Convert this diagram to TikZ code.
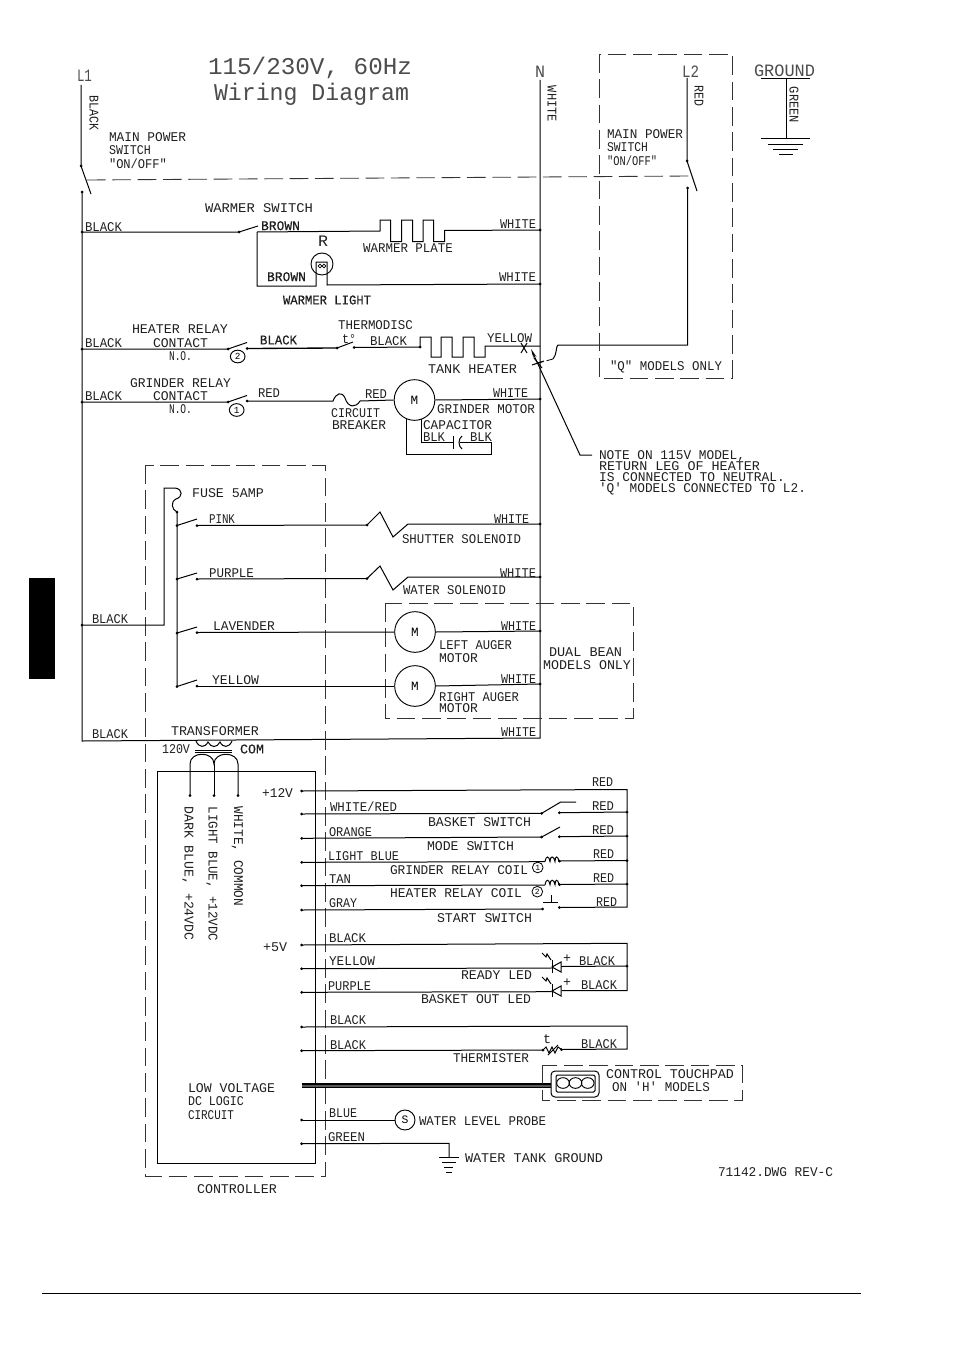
\documentclass[tikz,border=0pt]{standalone}
\usepackage{fontspec}
\setmainfont{Liberation Mono}
\newfontfamily\fplain{Liberation Mono}
\newfontfamily\fbold[FakeBold=0.4]{Liberation Mono}
\usetikzlibrary{arrows.meta,shapes.geometric}
\newcounter{tn}
\newcommand{\lblsize}{\fontsize{10}{12}\selectfont}
\newcommand{\Lab}[5][\lblsize]{\stepcounter{tn}\pgfmathsetlengthmacro\lw{(#3-#2)*0.75}%
  \node[lbl] (t\arabic{tn}) at (#2,{#4+4.4}) {\resizebox{\lw}{\height}{\fplain#1#5}};}
\newcommand{\VLab}[4]{\stepcounter{tn}\pgfmathsetlengthmacro\lw{(#3-#2)*0.75}%
  \node[lbl,rotate=-90] (t\arabic{tn}) at ({#1-4.4},#2) {\resizebox{\lw}{\height}{\lblsize #4}};}
\newcommand{\Jn}[1]{\fill (#1) circle (1.5);}
\newcommand{\Coil}[2]{\draw (#1,#2) .. controls (#1+1,#2-6) and (#1+4,#2-6) .. (#1+5,#2) .. controls (#1+5,#2-6) and (#1+9,#2-6) .. (#1+10,#2) .. controls (#1+10,#2-6) and (#1+13,#2-6) .. (#1+14,#2);}
\newcommand{\Led}[2]{% bar at x, centre y
  \draw (#1,#2-7) -- (#1,#2+6);
  \draw (#1,#2) -- (#1+9,#2-5) -- (#1+9,#2+5) -- cycle;
  \draw (#1-10,#2-14) -- (#1-6,#2-10) -- (#1-5,#2-13) -- (#1-1,#2-7);}
\tikzset{
  wire/.style={line width=0.75pt,line join=miter},
  lbl/.style={inner sep=0pt,outer sep=0pt,anchor=base west,text=black!88},
  dashbox/.style={line width=0.65pt,dash pattern=on 14pt off 5pt,draw=black!80},
  motor/.style={circle,draw,line width=0.7pt,minimum size=30.5pt,inner sep=0pt,font=\fontsize{9.5}{10}\selectfont},
  numc/.style={ellipse,draw,line width=0.7pt,minimum width=11pt,minimum height=9.5pt,inner sep=0pt,font=\fontsize{7}{8}\selectfont},
  numd/.style={ellipse,draw,line width=0.6pt,minimum width=8pt,minimum height=8pt,inner sep=0pt,font=\fontsize{6}{7}\selectfont},
}
\begin{document}
\begin{tikzpicture}[x=0.75pt,y=-0.75pt,wire]
\useasboundingbox (0,0) rectangle (954,1359);
\fill[black] (29,578) rectangle (55,679);
\draw[line width=0.55pt] (42,1293) -- (861,1293);

% ---------- title and supply labels
\tikzset{lbl/.append style={text=black!70}}
\Lab[\fontsize{18}{20}\selectfont]{208}{412}{70.6}{115/230V, 60Hz}
\Lab[\fontsize{18}{20}\selectfont]{214}{409}{96.6}{Wiring Diagram}
\Lab[\fontsize{13}{15}\selectfont]{77}{92}{77}{L1}
\Lab[\fontsize{13}{15}\selectfont]{535}{545}{73}{N}
\Lab[\fontsize{13}{15}\selectfont]{682}{699}{73}{L2}
\Lab[\fontsize{13}{15}\selectfont]{754}{815}{72}{GROUND}
\tikzset{lbl/.append style={text=black!88}}
\VLab{94}{96}{131}{BLACK}
\VLab{552}{86}{122}{WHITE}
\VLab{699}{86}{107}{RED}
\VLab{794}{87}{123}{GREEN}
\Lab{109}{186}{137}{MAIN POWER}
\Lab{109}{151}{150}{SWITCH}
\Lab{109}{167}{164}{"ON/OFF"}
\Lab{607}{683}{134}{MAIN POWER}
\Lab{607}{648}{147}{SWITCH}
\Lab{607}{657}{160.7}{"ON/OFF"}
\Lab{610}{722}{366}{"Q" MODELS ONLY}
\Lab{599}{745}{455}{NOTE ON 115V MODEL,}
\Lab{599}{760}{466}{RETURN LEG OF HEATER}
\Lab{599}{785}{477}{IS CONNECTED TO NEUTRAL.}
\Lab{599}{806}{488}{'Q' MODELS CONNECTED TO L2.}

% ---------- rails
\coordinate (Ltop) at (81,85);
\coordinate (Lsw) at (81,166);
\coordinate (Lblade) at (91,194);
\coordinate (Lb) at (82,192);
\coordinate (Lbot) at (82,741);
\coordinate (Ntop) at (540,80);
\coordinate (Nbot) at (540,738);
\draw (Ltop) -- (Lsw) -- (Lblade);
\draw (Lb) -- (Lbot) -- (Nbot) -- (Ntop);
\Jn{Lsw} \Jn{Lb}
\coordinate (Rtop) at (687,78);
\coordinate (Rsw) at (687,161);
\coordinate (Rblade) at (697,191);
\coordinate (Rb) at (687.5,188);
\coordinate (Rc) at (687.5,345);
\coordinate (Rd) at (558,345);
\coordinate (Re) at (553,359);
\coordinate (Xb) at (538,363);
\draw (Rtop) -- (Rsw) -- (Rblade);
\draw (Rb) -- (Rc) -- (Rd) .. controls (556,345) and (557,355) .. (Re);
\draw[line width=0.6pt,dash pattern=on 5pt off 2.5pt] (Re) -- (Xb);
\Jn{Rsw} \Jn{Rb}
\draw[dashbox] (87,180) -- (690,176);
\draw[dashbox] (599,54) rectangle (732,378);
% ground
\coordinate (Gt) at (786,79);
\coordinate (Gb) at (786,139);
\draw (761,79) -- (810,79);
\draw (Gt) -- (Gb);
\draw (761,139) -- (810,139);
\draw (768,144.5) -- (803,144.5);
\draw (773,149.5) -- (798,149.5);
\draw (779,155) -- (793,155);

% ---------- warmer
\coordinate (wa) at (82,232);
\coordinate (wb) at (239,232);
\coordinate (wc) at (258,226);
\coordinate (wd) at (257,232);
\coordinate (we) at (380,231);
\coordinate (wg) at (540,230);
\coordinate (wh) at (257,286);
\coordinate (wi) at (316,286);
\coordinate (wj) at (327,285);
\coordinate (wk) at (540,284);
\draw (wa) -- (wb) -- (wc);
\draw (wd) -- (we) -- ++(0,-11) -- ++(10.5,0) -- ++(0,21.5) -- ++(11,0) -- ++(0,-21.5) -- ++(11,0) -- ++(0,21.5) -- ++(10.5,0) -- ++(0,-21.5) -- ++(10.5,0) -- ++(0,21.5) -- ++(11,0) -- ++(0,-11) -- (wg);
\draw (wd) -- (wh) -- (wi) -- ++(0,-24) -- ++(11,0) -- (wj) -- (wk);
\Jn{wa} \Jn{wb} \Jn{wg} \Jn{wk}
\node[circle,draw,line width=0.7pt,minimum size=16.5pt,inner sep=0pt] (lamp) at (322,264) {};
\draw[line width=0.5pt] (320,266) circle (1.9) (324,266) circle (1.9);
\Lab{85}{122}{226.7}{BLACK}
\Lab{205}{313}{208}{WARMER SWITCH}
\Lab[\fbold\lblsize]{261}{300}{225.7}{BROWN}
\Lab{500}{536}{224}{WHITE}
\Lab{363}{453}{248}{WARMER PLATE}
\Lab[\fbold\lblsize]{267}{306}{276.7}{BROWN}
\Lab{499}{536}{276.7}{WHITE}
\Lab[\fbold\lblsize]{283}{371}{300}{WARMER LIGHT}
\Lab[\fontsize{12}{14}\selectfont]{318}{328}{242.5}{R}

% ---------- heater
\coordinate (ha) at (82,349);
\coordinate (hb) at (228,349);
\coordinate (hc) at (247,342.5);
\coordinate (hd) at (247,348.5);
\coordinate (he) at (337,348);
\coordinate (hf) at (353,342);
\coordinate (hg) at (354,347.5);
\coordinate (hh) at (420,347);
\coordinate (hi) at (540,346);
\draw (ha) -- (hb) -- (hc);
\draw[line width=1pt] (hd) -- (he);
\draw (he) -- (hf);
\draw (hg) -- (hh) -- ++(0,-10) -- ++(11,0) -- ++(0,20) -- ++(10,0) -- ++(0,-20) -- ++(11,0) -- ++(0,20) -- ++(11,0) -- ++(0,-20) -- ++(11,0) -- ++(0,20) -- ++(11,0) -- ++(0,-11) -- (hi);
\Jn{ha} \Jn{hb} \Jn{hd} \Jn{he} \Jn{hg} \Jn{hh}
\node[numc] (n2) at (237.7,356.5) {2};
\draw (521,343) -- (527,353) (527,343) -- (521,353);
\draw (534,358) -- (542,368) (544,361) -- (532,365);
\coordinate (na) at (592,455);
\coordinate (nb) at (580,455);
\coordinate (nc) at (531,349);
\draw[-{Stealth[length=7pt,width=2.5pt]}] (na) -- (nb) -- (nc);
\Lab{85}{122}{342.7}{BLACK}
\Lab{132}{228}{329}{HEATER RELAY}
\Lab{153}{208}{342.7}{CONTACT}
\Lab{169}{192}{356}{N.O.}
\Lab[\fbold\lblsize]{260}{297}{340}{BLACK}
\Lab{338}{413}{325}{THERMODISC}
\Lab{342}{356}{339}{t°}
\Lab{370}{407}{341}{BLACK}
\Lab{487}{532}{338}{YELLOW}
\Lab{428}{517}{369}{TANK HEATER}

% ---------- grinder
\coordinate (ga) at (82,402);
\coordinate (gb) at (228,402);
\coordinate (gc) at (247,395.5);
\coordinate (gd) at (247,401);
\coordinate (ge) at (333,401);
\coordinate (gf) at (360,401);
\coordinate (gg) at (540,399);
\node[motor] (gm) at (414.5,400) {M};
\draw (ga) -- (gb) -- (gc);
\draw (gd) -- (ge) .. controls (336,393) and (342,391) .. (345,398) .. controls (348,408) and (356,408) .. (gf) -- (gm.west);
\draw (gm.east) -- (gg);
\Jn{ga} \Jn{gb} \Jn{gd} \Jn{gg}
\node[numc] (n1) at (236.7,410) {1};
\coordinate (ca) at (421.7,442.3);
\coordinate (cb) at (453.5,442.3);
\coordinate (cc) at (460,442.3);
\coordinate (cd) at (491.7,442.3);
\coordinate (ce) at (491.7,454.3);
\coordinate (cf) at (406.7,454.3);
\draw (421.7,419.3) -- (ca) -- (cb);
\draw (453.5,436) -- (453.5,449);
\draw (462,436) .. controls (458,439) and (458,446) .. (462,449);
\draw (cc) -- (cd) -- (ce) -- (cf) -- (406.7,418.5);
\Lab{85}{122}{396}{BLACK}
\Lab{130}{231}{383}{GRINDER RELAY}
\Lab{153}{208}{396}{CONTACT}
\Lab{169}{192}{409}{N.O.}
\Lab{258}{280}{393}{RED}
\Lab{365}{387}{394}{RED}
\Lab{493}{528}{393}{WHITE}
\Lab{437}{535}{409}{GRINDER MOTOR}
\Lab{331}{380}{413}{CIRCUIT}
\Lab{332}{386}{425}{BREAKER}
\Lab{423}{492}{425}{CAPACITOR}
\Lab{423}{445}{437}{BLK}
\Lab{470}{492}{437}{BLK}

% ---------- controller AC side
\draw[dashbox] (145,465) rectangle (325,1176);
\draw[dashbox] (385.5,603) rectangle (633,718.5);
\coordinate (fa) at (82,625);
\coordinate (fb) at (164,625);
\coordinate (fc) at (164,488);
\coordinate (fd) at (175,488);
\coordinate (fe) at (177,512);
\coordinate (ff) at (177,686.5);
\draw (fa) -- (fb) -- (fc) -- (fd) .. controls (183,489) and (183,497) .. (176,499) .. controls (170,502) and (172,510) .. (fe) -- (ff);
\Jn{fa} \Jn{fe}
% pink
\coordinate (pa) at (177,525.5);
\coordinate (pb) at (197,519);
\coordinate (pc) at (197,525.5);
\coordinate (pd) at (367,525);
\coordinate (pe) at (408,524);
\coordinate (pf) at (540,524);
\draw (pa) -- (pb);
\draw (pc) -- (pd) -- (380,512) -- (393,537) -- (pe) -- (pf);
\Jn{pa} \Jn{pc} \Jn{pd} \Jn{pf}
% purple
\coordinate (qa) at (177,579);
\coordinate (qb) at (197,573);
\coordinate (qc) at (197,579);
\coordinate (qd) at (367,578.5);
\coordinate (qe) at (408,577);
\coordinate (qf) at (540,577);
\draw (qa) -- (qb);
\draw (qc) -- (qd) -- (380,566) -- (393,590) -- (qe) -- (qf);
\Jn{qa} \Jn{qc} \Jn{qd} \Jn{qf}
% lavender
\coordinate (ra) at (177,633);
\coordinate (rb) at (197,627);
\coordinate (rc) at (197,632.5);
\coordinate (rf) at (540,631);
\node[motor] (lm) at (415,632) {M};
\draw (ra) -- (rb);
\draw (rc) -- (lm.west);
\draw (lm.east) -- (rf);
\Jn{ra} \Jn{rc} \Jn{rf}
% yellow
\coordinate (ya) at (177,686.5);
\coordinate (yb) at (197,680);
\coordinate (yc) at (197,686);
\coordinate (yf) at (540,684);
\node[motor] (rm) at (415,686) {M};
\draw (ya) -- (yb);
\draw (yc) -- (rm.west);
\draw (rm.east) -- (yf);
\Jn{ya} \Jn{yc} \Jn{yf}
\Lab{192}{264}{493}{FUSE 5AMP}
\Lab{92}{128}{619}{BLACK}
\Lab{209}{235}{519}{PINK}
\Lab{494}{529}{519}{WHITE}
\Lab{402}{521}{539}{SHUTTER SOLENOID}
\Lab{209}{254}{573}{PURPLE}
\Lab{500}{536}{573}{WHITE}
\Lab{403}{506}{590}{WATER SOLENOID}
\Lab{213}{275}{626}{LAVENDER}
\Lab{501}{536}{626}{WHITE}
\Lab{439}{512}{645}{LEFT AUGER}
\Lab{439}{478}{658}{MOTOR}
\Lab{212}{259}{680}{YELLOW}
\Lab{501}{536}{679}{WHITE}
\Lab{439}{519}{697}{RIGHT AUGER}
\Lab{439}{478}{708}{MOTOR}
\Lab{549}{622}{652}{DUAL BEAN}
\Lab{543}{631}{665}{MODELS ONLY}
\Lab{92}{128}{734}{BLACK}
\Lab{501}{536}{732}{WHITE}

% ---------- transformer
\coordinate (s1) at (190,795.5);
\coordinate (s2) at (214,795.5);
\coordinate (s3) at (238,795.5);
\draw (196,741) .. controls (199,748) and (205,748) .. (208,742) .. controls (211,748) and (217,748) .. (220,742) .. controls (223,748) and (229,748) .. (232,741);
\draw (195,750) -- (232,750);
\draw (195,752.5) -- (232,752.5);
\draw (s1) -- (190,764) .. controls (190,751) and (214,751) .. (214,764) .. controls (214,751) and (238,751) .. (238,764) -- (s3);
\draw (214,764) -- (s2);
\Jn{s1} \Jn{s2} \Jn{s3}
\draw (157,771.5) rectangle (315,1163);
\Lab{171}{259}{731}{TRANSFORMER}
\Lab{162}{190}{749}{120V}
\Lab[\fbold\lblsize]{240}{264}{749}{COM}
\VLab{189}{806.5}{940.5}{DARK BLUE, +24VDC}
\VLab{213}{806.5}{941.5}{LIGHT BLUE, +12VDC}
\VLab{238.5}{806.5}{906}{WHITE, COMMON}

% ---------- low voltage outputs
\coordinate (o12) at (301.7,791);
\coordinate (r12) at (627,789.5);
\coordinate (rb5) at (627,907);
\coordinate (rc5) at (559.3,907.5);
\draw (o12) -- (r12) -- (rb5) -- (rc5);
\Jn{o12} \Jn{rc5}
% white/red
\coordinate (oa) at (301.7,814);
\coordinate (oa1) at (541.7,813.3);
\coordinate (oa2) at (560.7,802);
\coordinate (oa3) at (576,802);
\coordinate (oa4) at (559.3,812.7);
\coordinate (oa5) at (627,812);
\draw (oa) -- (oa1) -- (oa2) -- (oa3);
\draw (oa4) -- (oa5);
\Jn{oa} \Jn{oa1} \Jn{oa4} \Jn{oa5}
% orange
\coordinate (ob) at (301.7,838.3);
\coordinate (ob1) at (541.7,837);
\coordinate (ob2) at (560,827);
\coordinate (ob4) at (559.3,836.7);
\coordinate (ob5) at (627,836);
\draw (ob) -- (ob1) -- (ob2);
\draw (ob4) -- (ob5);
\Jn{ob} \Jn{ob1} \Jn{ob4} \Jn{ob5}
% light blue
\coordinate (oc) at (301.7,862.3);
\coordinate (oc1) at (545,861.7);
\coordinate (oc4) at (559.5,861);
\coordinate (oc5) at (627,860.5);
\draw (oc) -- (oc1);
\Coil{545}{861.5}
\draw (oc4) -- (oc5);
\Jn{oc} \Jn{oc4} \Jn{oc5}
\node[numd] (c1) at (537.7,867.5) {1};
% tan
\coordinate (od) at (301.7,885.7);
\coordinate (od1) at (545,885);
\coordinate (od4) at (559.5,884.5);
\coordinate (od5) at (627,884);
\draw (od) -- (od1);
\Coil{545}{884.7}
\draw (od4) -- (od5);
\Jn{od} \Jn{od4} \Jn{od5}
\node[numd] (c2) at (537.3,891.7) {2};
% gray
\coordinate (oe) at (301.7,910);
\coordinate (oe1) at (542.7,909);
\draw (oe) -- (oe1);
\Jn{oe} \Jn{oe1}
\draw (543,902.5) -- (558,902.5) (551.5,902.5) -- (551.5,895);
% +5V
\coordinate (of) at (301.7,945);
\coordinate (r5) at (627,943.3);
\coordinate (r5b) at (627,990.5);
\coordinate (lb) at (561.7,990.5);
\draw (of) -- (r5) -- (r5b) -- (lb);
\Jn{of}
\coordinate (og) at (301.7,968.7);
\coordinate (og1) at (551.7,968);
\coordinate (og2) at (561,966.5);
\coordinate (og3) at (627,966);
\draw (og) -- (og1);
\draw (og2) -- (og3);
\Led{552}{967}
\Jn{og} \Jn{og3}
\coordinate (oh) at (301.7,992.3);
\coordinate (oh1) at (551.7,991.7);
\draw (oh) -- (oh1);
\Led{552}{991}
\Jn{oh}
\Lab{563}{571}{958}{+}
\Lab{563}{571}{982}{+}
% thermister
\coordinate (oi) at (301.7,1027);
\coordinate (i1) at (627,1026);
\coordinate (i2) at (627,1049);
\coordinate (i3) at (561.5,1049.5);
\coordinate (oj) at (301.7,1050.7);
\coordinate (j1) at (543,1050);
\draw (oi) -- (i1) -- (i2) -- (i3);
\draw (oj) -- (j1) -- (546,1047) -- (549,1053) -- (552,1047) -- (555,1053) -- (558,1047) -- (i3);
\draw (548,1055) -- (558,1045);
\Jn{oi} \Jn{oj} \Jn{j1} \Jn{i3}
\Lab{543}{551}{1039}{t}
% touchpad bus
\coordinate (ok) at (301.7,1085.7);
\coordinate (k1) at (551,1085.7);
\draw[line width=3.2pt,black!65] (ok) -- (k1);
\draw[line width=1.1pt] (301.7,1084) -- (551,1084);
\draw[line width=1pt] (301.7,1087.3) -- (551,1087.3);
\draw[dashbox] (542,1065) rectangle (742,1100.7);
\draw[rounded corners=3pt] (551,1071) rectangle (599,1097);
\draw[rounded corners=1pt] (556,1075) rectangle (595,1092);
\node[ellipse,draw,line width=.7pt,minimum width=9.5pt,minimum height=8pt,inner sep=0pt] (b1) at (563,1083) {};
\node[ellipse,draw,line width=.7pt,minimum width=9.5pt,minimum height=8pt,inner sep=0pt] (b2) at (575.5,1083) {};
\node[ellipse,draw,line width=.7pt,minimum width=9.5pt,minimum height=8pt,inner sep=0pt] (b3) at (587.7,1083) {};
% probe
\coordinate (ol) at (301.7,1120);
\node[circle,draw,line width=.7pt,minimum size=15pt,inner sep=0pt,font=\fontsize{8.5}{9}\selectfont] (probe) at (405,1120) {S};
\draw (ol) -- (probe.west);
\Jn{ol}
% tank ground
\coordinate (om) at (301.7,1143.7);
\coordinate (m1) at (449,1143.3);
\coordinate (m2) at (449,1157.3);
\draw (om) -- (m1) -- (m2);
\Jn{om}
\draw (439,1157.3) -- (459,1157.3);
\draw (442,1162) -- (456,1162);
\draw (444,1167) -- (453,1167);
\draw (446,1172) -- (452,1172);

\Lab{592}{613}{782}{RED}
\Lab{262}{293}{793}{+12V}
\Lab{330}{397}{807}{WHITE/RED}
\Lab{592}{614}{806}{RED}
\Lab{428}{531}{821.7}{BASKET SWITCH}
\Lab{329}{372}{831.7}{ORANGE}
\Lab{592}{614}{830}{RED}
\Lab{427}{514}{845.7}{MODE SWITCH}
\Lab{328}{399}{856}{LIGHT BLUE}
\Lab{593}{614}{854.3}{RED}
\Lab{390}{528}{870}{GRINDER RELAY COIL}
\Lab{329}{351}{879.3}{TAN}
\Lab{593}{614}{877.7}{RED}
\Lab{390}{522}{893}{HEATER RELAY COIL}
\Lab{329}{357}{903}{GRAY}
\Lab{596}{617}{901.7}{RED}
\Lab{437}{532}{917.7}{START SWITCH}
\Lab{263}{287}{946.7}{+5V}
\Lab{329}{366}{937.7}{BLACK}
\Lab{329}{375}{960.7}{YELLOW}
\Lab{579}{615}{960.7}{BLACK}
\Lab{461}{532}{975}{READY LED}
\Lab{328}{371}{985.7}{PURPLE}
\Lab{581}{617}{985}{BLACK}
\Lab{421}{531}{999}{BASKET OUT LED}
\Lab{330}{366}{1020}{BLACK}
\Lab{330}{366}{1044.7}{BLACK}
\Lab{581}{617}{1044}{BLACK}
\Lab{453}{529}{1058}{THERMISTER}
\Lab{606}{734}{1074}{CONTROL TOUCHPAD}
\Lab{612}{710}{1087}{ON 'H' MODELS}
\Lab{188}{275}{1088}{LOW VOLTAGE}
\Lab{188}{244}{1101}{DC LOGIC}
\Lab{188}{234}{1115}{CIRCUIT}
\Lab{329}{357}{1113}{BLUE}
\Lab{419}{546}{1120.7}{WATER LEVEL PROBE}
\Lab{328}{365}{1136.7}{GREEN}
\Lab{465}{603}{1158}{WATER TANK GROUND}
\Lab{197}{277}{1189}{CONTROLLER}
\Lab{718}{833}{1172}{71142.DWG REV-C}
\end{tikzpicture}
\end{document}
